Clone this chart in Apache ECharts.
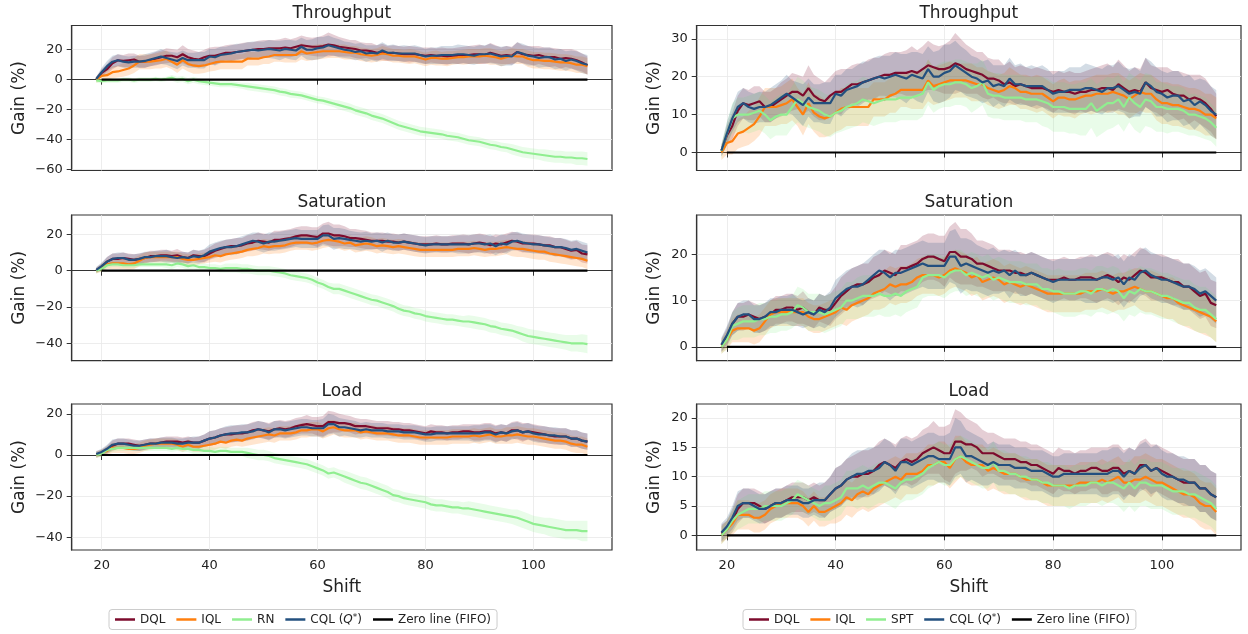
<!DOCTYPE html>
<html><head><meta charset="utf-8">
<script src="https://cdn.jsdelivr.net/npm/echarts@6/dist/echarts.min.js"></script>
<style>html,body{margin:0;padding:0;background:#fff}#c{width:1248px;height:634px}</style>
</head><body><div id="c"></div>
<script>
// ---------------- DATA ----------------
const SHIFT = Array.from({length: 92}, (_, i) => 19 + i);   // shifts 19..110
const ZERO_X = [20, 110];
const ZERO_Y = [0, 0];
const PANEL_TITLES = ['Throughput', 'Saturation', 'Load'];
const LEFT_LEGEND = ['DQL', 'IQL', 'RN', 'CQL (Q*)', 'Zero line (FIFO)'];
const RIGHT_LEGEND = ['DQL', 'IQL', 'SPT', 'CQL (Q*)', 'Zero line (FIFO)'];
const X_TICKS = [20, 40, 60, 80, 100];
const Y_TICKS_LEFT = [[-60, -40, -20, 0, 20], [-40, -20, 0, 20], [-40, -20, 0, 20]];
const Y_TICKS_RIGHT = [[0, 10, 20, 30], [0, 10, 20], [0, 5, 10, 15, 20]];

// Throughput
const TP_DQL = [0.5,4.5,7,11,13,12.5,13,13.5,12,12, 13,14,15,16,16,15,17,15,14,13.5, 15,16,16,17,18,18,18.5,19,19.5,20, 20.5,20.5,21,21,21,21.5,21,22,23,22.5, 22,22,22.5,23.5,23,22,21.5,21,20.5,19.5, 19.5,19,18,18.5,17.5,18,17.5,17,17,17, 16.5,16,16.5,16,16,15.5,16,16,16.5,16.5, 17,17,16.5,18,17,16,16.5,16,18.5,17, 16.5,16,16.5,15.5,15,15,14,14.5,14,13, 11.5,9.5];
const TP_IQL = [0,2.5,3,5,5.5,6.5,7.5,9.5,12,12, 12,12.5,13,14,12,10,13,10.5,9.5,9, 9.5,10.5,11.5,12,12,12,12,12,14,14, 14,15,15.5,16.5,16.5,16.5,16.5,16.5,19,17.5, 18,18.5,19,19,19,19,18.5,18,18,17, 16.5,16,16.5,17.5,17,16,16,15.5,15.5,15.5, 14.5,13.5,14.5,14.5,14,14,14.5,15,15,15.5, 15.5,15.5,16,15.5,15,14,15,16,15.5,15.5, 14,13,13,12.5,12.5,12,11.5,11.5,11,10, 10,9];
const TP_CQL = [0.5,5,9,12,13,12,11.5,12,12,12.5, 13.5,14.5,15.5,14.5,13.5,12.5,14.5,13,13,13, 13,15.5,15,16.5,17,17.5,18.5,19,19.5,20, 19.5,20,20.5,20,19.5,20.5,20,19.5,22,20, 20,21,21.5,23,22,21,20,19.5,18.5,19, 17.5,18,17.5,19.5,18,18,17.5,17.5,17.5,17.5, 16.5,15.5,16,16,16.5,16.5,16.5,17,17,16.5, 16,17,17,17.5,16.5,15.5,16,15.5,18.5,17.5, 16,15.5,14.5,15,15,13.5,14,12.5,13.5,12.5, 11,10];
const TP_RN = [-0.5,-1,-0.5,-0.5,-0.5,0,0,-0.5,0,0, 0,0.5,0,0.5,1.2,0,0.5,-1,0,-1, -1.5,-2,-2.5,-3,-3,-3,-3.5,-4,-4.5,-5, -5.5,-6,-6.5,-7,-8,-8.5,-9.5,-10,-10.5,-11.5, -12.5,-13.5,-14,-15,-16,-17,-18,-19,-20.5,-21.5, -22.5,-24,-25,-26,-27.5,-29,-30.5,-31.5,-32.5,-33.5, -34.5,-35,-35.5,-36,-36.5,-37.5,-38,-38.5,-39.5,-40.5, -41,-41.5,-42.5,-43.5,-44,-45,-45.5,-46.5,-47.5,-48.5, -49,-49.5,-50,-50.5,-51,-51.5,-51.5,-52,-52,-52.5, -52.5,-53];
const TP_SPT = [0.4,5,9,10,10,10,10.5,11,10,8.5, 9.5,10,10,12,14,13,12,11.5,11,10, 9.5,10.5,11,12,12.5,13,14,13.5,13,13.5, 14,14,14,14.5,14.5,14.5,15,15.5,18.5,16.5, 17.5,18,18,18.5,18.5,18,17,17.5,18.5,15.5, 15,15,14.5,14.5,14.5,14.5,14,14,14,13.5, 13,12,12,12,11.5,11.5,11.5,11.5,13,11, 12,13,13,14,12,14.5,13,12,14,13.5, 12,12,11.5,11.5,11.5,11,10,10,9.5,9, 8,6.5];
const TP_DQL_SD = [1.5,2.5,3.5,4,4,4,4.5,4,4,4, 4,4.5,4.5,5,4.5,5,6,5.5,5.5,5, 5,5.5,6,5,5,5.5,5,5.5,5.5,5, 5.5,6,5.5,5.5,6,6.5,6,6,6.5,6, 6,6.5,7,8,7,6.5,6,5.5,6,5.5, 5,5.5,5,5.5,5,5,5,5,5.5,5, 5,5.5,5,5,5.5,5.5,5,5.5,5.5,6, 6,6.5,6,6.5,6,5.5,6,6,6.5,6, 6,6.5,6,6,6.5,6,6.5,6,6.5,6.5, 6,6];
const TP_IQL_SD = [2,3,3.5,4,4,4.5,4.5,5,5,5, 5,5,5.5,5.5,5,5.5,5.5,5,5.5,5, 5,5,5.5,5,5,5,5,5,4.5,4.5, 4.5,4.5,5,4.5,4.5,5,5,5,5.5,5, 5,5,5,4.5,4.5,4.5,5,4.5,4.5,4.5, 4.5,4.5,4.5,5,4.5,4.5,4.5,4.5,5,4.5, 4.5,4.5,4.5,5,4.5,5,4.5,4.5,5,5, 5,5,5,5.5,5,5,5,5,5,5, 5.5,5.5,5.5,5.5,5.5,5.5,5.5,5.5,5.5,5.5, 5.5,5.5];
const TP_CQL_SD = [1.5,3,3.5,4,4,4,4,4,4,4.5, 4.5,4.5,5,4.5,5,5.5,5,5,5,5.5, 5.5,5,5.5,5.5,5,5.5,5.5,5,5.5,5.5, 6,5.5,6,6,6.5,6,6.5,6.5,6,6.5, 7,7.5,7,6.5,6,6,5.5,5.5,5.5,5.5, 5.5,5,5.5,5.5,5,5.5,5,5.5,5,5.5, 5.5,5,5.5,5.5,6,6,6,6.5,6,6, 6,6,6,6.5,6,6.5,6.5,6,6.5,6.5, 6.5,6,6.5,6.5,6.5,6.5,6.5,6.5,6,6.5, 6.5,6.5];
const TP_RN_SD = [1.5,1.5,1.5,1.5,1.5,1.5,1.5,1.5,1.5,1.5, 1.5,1.5,1.5,1.5,2,2,2,2,2,2, 2,2,2,2,2,2,2,2,2.5,2.5, 2.5,2.5,2.5,2.5,2.5,2.5,2.5,2.5,2.5,2.5, 2.5,2.5,2.5,2.5,2.5,3,3,3,3,3, 3,3,3,3,3,3,3,3,3,3, 3,3,3,3,3,3,3,3,3,3, 3,3,3,3,3,3,3,3.5,3.5,3.5, 3.5,3.5,3.5,4,4,4,4,4,4,4.5, 4.5,4.5];
const TP_SPT_SD = [2,3,4,4.5,4.5,5,5,5,5,5, 5,5.5,5.5,5.5,6,6,5.5,5.5,5.5,5.5, 5.5,5.5,5.5,6,6,6,6,6,6,6, 6,6,6,6,6,6,6.5,6,6,6, 6,6,6,6,6,6,6.5,6,6,6, 6,6,6,6,6,6,6,6,6,6.5, 6.5,6.5,6.5,6.5,6.5,6.5,7,7,6.5,7, 7,7,6.5,6.5,6.5,6.5,7,7,7,7, 6.5,6.5,6.5,6,6,6,5.5,5.5,5.5,5.5, 5,5];

// Saturation
const SAT_DQL = [0.3,2,5,6.5,6.5,7,6.5,6,6.5,7, 8,8,8.5,8.5,8,8.5,7.5,7,8.5,8, 8,9.5,11,12,13,13.5,13.5,14,15,15.5, 16.5,16,15.5,17,17,17.5,18,19,19.5,19.5, 19,18.5,20.5,20.5,19.5,19.5,19,18,18,17.5, 17,16.5,16.5,16.5,16,16,15.5,16,15.5,15, 14.5,14.5,14.5,15,14.5,14.5,15,15,15,14.5, 15,15.5,15,14,15,14.5,15.5,16.5,16,15, 15,15,14.5,14,14,13,13,12,11,11.5, 9.5,9];
const SAT_IQL = [0,1.5,3.5,4,4,4,3.5,4,5.5,7, 7.5,7.5,7.5,7.5,7.5,7.5,6.5,6,6,6.5, 7,7.5,8.5,8,9,9.5,10,10.5,11.5,12, 12.5,13.5,13,13.5,13.5,14,15,15.5,15.5,15.5, 15,15.5,16.5,17,16.5,16,15,15.5,14,14.5, 15,14.5,13.5,14,13.5,13,13.5,13,12.5,12, 11.5,11.5,11.5,11.5,11.5,11.5,11.5,12,12,12, 12.5,12,11.5,12,12,12.5,13,12.5,12,12, 11.5,11,10.5,10.5,9.5,9,8.5,8,7.5,7, 6.5,5.5];
const SAT_CQL = [0.5,2.5,5,6.5,7,7,6,6,6.5,7.5, 7.5,8,8,8,7.5,7,7.5,7,8,7.5, 8.5,10.5,11.5,12.5,13,13,13.5,14.5,15.5,16.5, 16,15,16,16,16.5,17,17.5,18,17.5,17.5, 17.5,17.5,19.5,19.5,17.5,18,17.5,17,16.5,16, 16.5,16,16.5,15.5,16.5,15.5,15.5,16,15.5,15, 14.5,14,14.5,14.5,14.5,14.5,14.5,14.5,14.5,14.5, 15,15,14.5,15,13.5,15,14.5,16,16.5,15.5, 15,14.5,14.5,14,13.5,13,13,12.5,11.5,12, 11,10];
const SAT_RN = [0,1,3,3.5,3.5,3,3,3,3.5,3.5, 3.5,3.5,3.5,3.5,3,4,3.5,2.5,3,2, 2,1.5,1.5,1,1.5,1.5,1.5,1,1,0.5, 0,0,0,-0.5,-1,-1.5,-2.5,-3,-3.5,-4, -5,-6.5,-7.5,-9,-10,-10,-11,-12,-13,-14, -15,-16,-16.5,-17.5,-18.5,-19.5,-21,-22,-22.5,-23.5, -24,-25,-25.5,-26,-26.5,-27,-27,-27.5,-28,-28, -28.5,-29,-29.5,-30.5,-31,-32,-32.5,-33,-34,-35, -36,-36.5,-37,-37.5,-38,-38.5,-39,-39.5,-40,-40, -40,-40.5];
const SAT_SPT = [0,1.5,4.5,5,5.5,5.5,5.5,6,6,6.5, 6.5,7,7,7.5,9,8.5,7.5,7.5,7.5,7, 7.5,8,8.5,10,10,10.5,11,11,11,11.5, 11,11,11.5,11,12,12.5,13,15,15.5,15.5, 15.5,15,16,16.5,16.5,15.5,16,15.5,15,15.5, 14.5,15,14.5,14,14,14,13.5,13.5,13.5,12.5, 12.5,12,12,11.5,11.5,11.5,12,12,11.5,12.5, 12.5,12,12.5,12,10.5,12,11.5,12.5,12,12, 11.5,11,11,10.5,10,9.5,9.5,8.5,8,8, 7,6];
const SAT_DQL_SD = [1.5,2,2.5,3,3,3,3,3,3,3, 3,3,3,3,3,3.5,3,3,3,3, 3.5,3.5,4,4,4,4,4.5,4,4.5,4.5, 4.5,4.5,4.5,5,5,5,5,5,5,5, 5,5.5,5.5,6.5,6,6,5.5,5,5,5, 5,4.5,4.5,4.5,4.5,4.5,4.5,4.5,4.5,4.5, 4.5,4.5,4.5,4.5,4.5,4.5,4.5,4.5,5,5, 5,5,5,5,5,5,5,5,5,5, 5,5,5,5,5,5,5,5,5,5, 5,5];
const SAT_IQL_SD = [1.5,2,2.5,3,3,3,3,3,3,3, 3,3,3,3,3,3,3,3,3,3, 3,3,3.5,3.5,3.5,3.5,3.5,3.5,3.5,4, 4,4,4,4,4,4,4,4,4,4, 4,4,4,4,4,4,4,4,4,4, 4,4,4,4,4,4,4,4,4,4, 4,4,4,4,4,4,4,4,4,4, 4,4,4,4,4,4,4,4.5,4.5,4.5, 4.5,4.5,4.5,4.5,4.5,4.5,4.5,4.5,4.5,4.5, 4.5,4.5];
const SAT_CQL_SD = [1.5,2,2.5,3,3,3,3,3,3,3, 3,3,3,3.5,3,3,3,3,3.5,3.5, 3.5,4,4,4,4,4.5,4.5,4.5,4.5,4.5, 5,5,5,5,5,5,5,5,5,5, 5,5,5.5,6,6,5.5,5.5,5,5,5, 5,4.5,4.5,5,4.5,4.5,4.5,4.5,4.5,4.5, 4.5,4.5,4.5,4.5,4.5,4.5,4.5,5,5,5, 5,5,5,5,5,5,5,5,5,5, 5,5,5,5,5,5,5,5,5,5, 5,5];
const SAT_RN_SD = [1.5,1.5,1.5,1.5,1.5,1.5,1.5,1.5,1.5,1.5, 1.5,1.5,1.5,2,2,2,2,2,2,2, 2,2,2,2,2.5,2.5,2.5,2.5,2.5,2.5, 2.5,2.5,2.5,2.5,2.5,2.5,2.5,2.5,2.5,2.5, 2.5,2.5,2.5,2.5,3,3,3,3,3,3, 3,3,3,3,3,3,3,3,3,3, 3,3,3,3,3,3,3,3,3,3.5, 3.5,3.5,3.5,3.5,3.5,3.5,3.5,3.5,3.5,4, 4,4,4,4,4,4,4,4,4.5,4.5, 5,5];
const SAT_SPT_SD = [1.5,2,3,3.5,3.5,3.5,3.5,3.5,3.5,3.5, 3.5,3.5,3.5,3.5,4,4,4,4,4,4, 4,4,4,4,4,4.5,4.5,4.5,4.5,4.5, 4.5,4.5,4.5,4.5,4.5,4.5,4.5,4.5,4.5,4.5, 4.5,4.5,4.5,4.5,4.5,4.5,4.5,4.5,4.5,4.5, 4.5,4.5,4.5,4.5,4.5,4.5,4.5,4.5,4.5,4.5, 4.5,4.5,5,5,5,5,5,5,5,5, 5,5,5,5,5,5,5,5,5,5, 5,5,5,5,5,5,5,5,5,5, 5,5];

// Load
const LOAD_DQL = [0.3,1,2.5,4.5,5.5,5.5,5.5,5,4.5,5, 5.5,5.5,6,6.5,6.5,6.5,6,6.5,6,6, 7,8,8.5,9.5,10,10,10.5,10.5,11,12, 12.5,12,11.5,12.5,13,12.5,13,14,14.5,15, 14.5,14,14,16,16,15.5,15.5,15,14,14, 14,13.5,13,13,13,12.5,12.5,12,12,11.5, 11,10.5,11.5,11,11,10.5,11,11,11.5,11.5, 11,11,11.5,11.5,10.5,11,10.5,12,12,11, 11.5,11,10.5,10,9.5,9,9,9,8,8, 7,6.5];
const LOAD_IQL = [0,1,2,3.5,3.5,3.5,3,3,3.5,4.5, 5,5.5,5.5,5.5,5.5,5,4,5,4,4, 4.5,5,5.5,6.5,6,7,7.5,7,8,8.5, 9,9.5,10,9.5,10.5,10.5,10.5,11,12,12, 12.5,12.5,11.5,13,13.5,12.5,12,12,12,11, 11.5,11,10.5,10.5,10.5,10,9.5,9.5,9.5,9, 8.5,8.5,8.5,8.5,8.5,8.5,9,9,9,9, 9.5,9,9.5,10,9,9,9.5,9.5,10,9.5, 9,9,8.5,8,7.5,7,7,6.5,5.5,5, 5,4];
const LOAD_CQL = [0.5,1.5,3,5,5.5,5.5,5,4.5,4.5,5, 5.5,5.5,6,6,6,5.5,5.5,6,6,6, 7,8,8.5,9.5,10,10.5,10.5,11,11,11.5, 12.5,12,11,12.5,12.5,12,12.5,13,13.5,13.5, 13,13,13,15,15,13.5,13.5,13,12.5,12, 12.5,12,12,12,11.5,11.5,11.5,11,11,11, 10.5,10,10,10.5,10.5,10.5,10.5,10.5,10.5,10.5, 10.5,10.5,11,11,10,11,10.5,11.5,12,11, 11.5,10.5,10,10,9.5,9.5,9,9,8,8, 7,6.5];
const LOAD_RN = [0,0.5,2.5,3,3.5,3.5,3.5,3.5,3.5,3.5, 3.5,3.5,3.5,3.5,3,3.5,3,3,2.5,2.5, 2,2,1.5,2,2,1.5,1.5,1.5,1,0.5, 0,0,-0.5,-1.5,-2,-2.5,-3,-3.5,-4,-4.5, -5.5,-6.5,-7.5,-9,-8.5,-9.5,-10.5,-11.5,-12.5,-13.5, -14,-15,-16,-17,-18,-19.5,-20,-21,-21.5,-22, -22.5,-23,-24,-24.5,-24.5,-25,-25.5,-25.5,-26,-26, -26.5,-27,-27.5,-28,-28.5,-29,-29.5,-30,-30.5,-31.5, -32.5,-33.5,-34,-34.5,-35,-35.5,-36,-36.5,-36.5,-36.5, -37,-37];
const LOAD_SPT = [0,1,2.5,3.5,4,4.5,4.5,4.5,5,5, 5,5,5.5,6,7,6.5,6,5.5,5,5.5, 5.5,6,6.5,8,8,8,8.5,8,8.5,9, 9,8.5,8,9,9.5,9.5,10,10.5,11.5,12, 12.5,12,12,13,13.5,13,12.5,12,11.5,11.5, 12.5,11,11,10.5,10.5,10,10,9.5,9.5,9, 9,8.5,8.5,8.5,8,8.5,8.5,8.5,9,9, 8.5,9,9,8.5,8,9,8,9,9,8.5, 8.5,8.5,8,7.5,7.5,7.5,7,7,6.5,6, 5.5,4.5];
const LOAD_DQL_SD = [1.5,1.5,2,2.5,2.5,2.5,2.5,2.5,2.5,2.5, 2.5,2.5,2.5,2.5,2.5,2.5,2.5,2.5,2.5,3, 3,3.5,3.5,3.5,3.5,4,4,4,4,4, 4,4,4,4,4,4,4,4,4,4.5, 4,4.5,5,5.5,5,4.5,4,4,4,3.5, 3.5,3.5,3.5,3.5,3.5,3.5,3.5,3.5,3.5,3.5, 3.5,3.5,3.5,3.5,3.5,3.5,3.5,3.5,3.5,3.5, 4,4,4,4,4,4,4,4,4.5,4.5, 4,4,4,4,4,4,4,4,4,4, 4,4];
const LOAD_IQL_SD = [1.5,1.5,2,2.5,2.5,2.5,2.5,2.5,2.5,2.5, 2.5,2.5,2.5,2.5,2.5,2.5,2.5,2.5,2.5,2.5, 2.5,3,3,3,3,3,3,3,3.5,3.5, 3.5,3.5,3.5,3.5,3.5,3.5,3.5,3.5,3.5,3.5, 3.5,3.5,3.5,4,3.5,3.5,3.5,3.5,3.5,3.5, 3.5,3.5,3.5,3.5,3.5,3.5,3.5,3.5,3.5,3.5, 3.5,3.5,3.5,3.5,3.5,3.5,3.5,3.5,3.5,3.5, 3.5,3.5,3.5,3.5,3.5,3.5,4,4,4,4, 4,4,4,4,4,4,4,4,4,4, 4,4];
const LOAD_CQL_SD = [1.5,1.5,2,2.5,2.5,2.5,2.5,2.5,2.5,2.5, 2.5,2.5,2.5,2.5,2.5,2.5,2.5,2.5,3,3, 3,3.5,3.5,3.5,4,4,4,4,4,4, 4,4,4,4,4,4,4,4,4,4, 4,4,4.5,5,4.5,4.5,4,4,4,3.5, 3.5,3.5,3.5,3.5,3.5,3.5,3.5,3.5,3.5,3.5, 3.5,3.5,3.5,3.5,3.5,3.5,3.5,3.5,3.5,3.5, 4,4,4,4,4,4,4,4,4,4, 4,4,4,4,4,4,4,4,4,4, 4,4];
const LOAD_RN_SD = [1.5,1.5,1.5,1.5,1.5,1.5,1.5,1.5,1.5,1.5, 1.5,1.5,1.5,1.5,1.5,1.5,1.5,1.5,2,2, 2,2,2,2,2,2,2,2,2.5,2.5, 2.5,2.5,2.5,2.5,2.5,2.5,2.5,2.5,2.5,2.5, 2.5,2.5,2.5,2.5,2.5,2.5,3,3,3,3, 3,3,3,3,3,3,3,3,3,3, 3,3,3,3,3,3,3,3,3,3.5, 3.5,3.5,3.5,3.5,3.5,3.5,3.5,3.5,4,4, 4,4,4,4,4.5,4.5,4.5,4.5,4.5,4.5, 5,5];
const LOAD_SPT_SD = [1.5,1.5,2,2.5,2.5,2.5,2.5,2.5,2.5,2.5, 2.5,2.5,2.5,2.5,2.5,2.5,2.5,2.5,2.5,3, 3,3,3,3,3,3.5,3.5,3.5,3.5,3.5, 3.5,3.5,3.5,3.5,3.5,3.5,3.5,3.5,3.5,3.5, 3.5,3.5,3.5,3.5,3.5,3.5,3.5,3.5,3.5,3.5, 3.5,3.5,3.5,3.5,3.5,3.5,3.5,3.5,3.5,3.5, 3.5,3.5,3.5,3.5,3.5,3.5,3.5,3.5,3.5,3.5, 3.5,3.5,3.5,3.5,4,4,4,4,4,4, 4,4,4,4,4,4,4,4,4,4, 4,4];

// ---------------- LAYOUT / STYLE ----------------
const COLORS = {DQL: '#7d0b2d', IQL: '#ff7f0e', GREEN: '#90ee90', CQL: '#23507f', ZERO: '#000000'};
const ROW_TOP = [25.5, 215, 404];
const ROW_H = [145, 145.7, 146];
const COL_LEFT = [71.7, 696.7];
const COL_W = [540.3, 544.3];
const Y_RANGE_LEFT = [[-60.7, 36.2], [-49.6, 30.7], [-46.2, 24.8]];
const Y_RANGE_RIGHT = [[-4.75, 33.5], [-3.0, 28.5], [-2.5, 22.4]];
const FONT = 'DejaVu Sans';
const TXT = '#222';

const ROWS = [
  {dql: TP_DQL, iql: TP_IQL, cql: TP_CQL, rn: TP_RN, spt: TP_SPT,
   dqlSd: TP_DQL_SD, iqlSd: TP_IQL_SD, cqlSd: TP_CQL_SD, rnSd: TP_RN_SD, sptSd: TP_SPT_SD},
  {dql: SAT_DQL, iql: SAT_IQL, cql: SAT_CQL, rn: SAT_RN, spt: SAT_SPT,
   dqlSd: SAT_DQL_SD, iqlSd: SAT_IQL_SD, cqlSd: SAT_CQL_SD, rnSd: SAT_RN_SD, sptSd: SAT_SPT_SD},
  {dql: LOAD_DQL, iql: LOAD_IQL, cql: LOAD_CQL, rn: LOAD_RN, spt: LOAD_SPT,
   dqlSd: LOAD_DQL_SD, iqlSd: LOAD_IQL_SD, cqlSd: LOAD_CQL_SD, rnSd: LOAD_RN_SD, sptSd: LOAD_SPT_SD}
];

function rgba(hex, a) {
  const n = parseInt(hex.slice(1), 16);
  return `rgba(${(n >> 16) & 255},${(n >> 8) & 255},${n & 255},${a})`;
}
function minusFmt(v) { return String(v).replace('-', '\u2212'); }

function band(k, mean, sd, color) {
  const lo = mean.map((m, i) => m - sd[i]);
  const hi = mean.map((m, i) => m + sd[i]);
  return {
    type: 'custom', name: 'band', xAxisIndex: k, yAxisIndex: k, z: 1, silent: true, clip: true,
    data: SHIFT.map((x, i) => [x, lo[i], hi[i]]),
    encode: {x: 0, y: [1, 2]},
    renderItem(params, api) {
      if (params.dataIndex !== 0) return null;
      const pts = [];
      for (let i = 0; i < SHIFT.length; i++) pts.push(api.coord([SHIFT[i], hi[i]]));
      for (let i = SHIFT.length - 1; i >= 0; i--) pts.push(api.coord([SHIFT[i], lo[i]]));
      return {type: 'polygon', shape: {points: pts}, style: {fill: rgba(color, 0.2)}};
    }
  };
}

function line(k, name, xs, ys, color, z) {
  return {
    type: 'line', name, xAxisIndex: k, yAxisIndex: k, z: z || 2,
    data: xs.map((x, i) => [x, ys[i]]),
    symbol: 'none', showSymbol: false, silent: true,
    color, itemStyle: {color},
    lineStyle: {color, width: 2.2}
  };
}

const grids = [], xAxes = [], yAxes = [], series = [], titles = [];
for (let r = 0; r < 3; r++) {
  for (let c = 0; c < 2; c++) {
    const k = r * 2 + c;
    const d = ROWS[r];
    const green = c === 0 ? d.rn : d.spt;
    const greenSd = c === 0 ? d.rnSd : d.sptSd;
    const greenName = c === 0 ? 'RN' : 'SPT';
    const yr = c === 0 ? Y_RANGE_LEFT[r] : Y_RANGE_RIGHT[r];
    const yt = c === 0 ? Y_TICKS_LEFT[r] : Y_TICKS_RIGHT[r];
    grids.push({left: COL_LEFT[c], top: ROW_TOP[r], width: COL_W[c], height: ROW_H[r],
      show: true, borderColor: '#333', borderWidth: 1.2, backgroundColor: 'transparent', containLabel: false});
    xAxes.push({
      type: 'value', gridIndex: k, min: 14.45, max: 114.55,
      name: r === 2 ? 'Shift' : '', nameLocation: 'middle', nameGap: 29,
      nameTextStyle: {fontSize: 17, color: TXT, fontFamily: FONT},
      axisLine: {show: true, lineStyle: {color: '#333', width: 1.2}},
      axisTick: {show: true, inside: false, length: 5, lineStyle: {color: '#333', width: 1}, customValues: X_TICKS},
      axisLabel: {show: r === 2, customValues: X_TICKS, margin: 9, fontSize: 13, color: TXT, fontFamily: FONT},
      splitLine: {show: true, lineStyle: {color: '#e8e8e8', width: 0.8}}
    });
    yAxes.push({
      type: 'value', gridIndex: k, min: yr[0], max: yr[1],
      name: 'Gain (%)', nameLocation: 'middle', nameGap: c === 0 ? 44 : 34,
      nameTextStyle: {fontSize: 17, color: TXT, fontFamily: FONT},
      axisLine: {show: true, lineStyle: {color: '#333', width: 1.2}},
      axisTick: {show: true, inside: false, length: 5, lineStyle: {color: '#333', width: 1}, customValues: yt},
      axisLabel: {show: true, customValues: yt, margin: 9, fontSize: 13, color: TXT, fontFamily: FONT, formatter: minusFmt},
      splitLine: {show: true, lineStyle: {color: '#e8e8e8', width: 0.8}}
    });
    series.push(band(k, d.dql, d.dqlSd, COLORS.DQL));
    series.push(band(k, d.iql, d.iqlSd, COLORS.IQL));
    series.push(band(k, green, greenSd, COLORS.GREEN));
    series.push(band(k, d.cql, d.cqlSd, COLORS.CQL));
    series.push(line(k, 'DQL', SHIFT, d.dql, COLORS.DQL, 2));
    series.push(line(k, 'IQL', SHIFT, d.iql, COLORS.IQL, 3));
    series.push(line(k, greenName, SHIFT, green, COLORS.GREEN, 4));
    series.push(line(k, 'CQL (Q*)', SHIFT, d.cql, COLORS.CQL, 5));
    series.push(line(k, 'Zero line (FIFO)', ZERO_X, ZERO_Y, COLORS.ZERO, 6));
    titles.push({
      text: PANEL_TITLES[r], left: COL_LEFT[c] + COL_W[c] / 2, top: ROW_TOP[r] - 20.5, textAlign: 'center',
      padding: 0,
      textStyle: {fontSize: 17, fontWeight: 'normal', color: TXT, fontFamily: FONT}
    });
  }
}

const legendRich = {
  i: {fontStyle: 'italic', fontSize: 12, color: TXT, fontFamily: FONT},
  s: {fontSize: 9, color: TXT, fontFamily: FONT, verticalAlign: 'top'}
};
function legendFmt(name) { return name === 'CQL (Q*)' ? 'CQL ({i|Q}{s|*})' : name; }
function legend(data, left) {
  return {
    data, left, top: 609.5, orient: 'horizontal', selectedMode: false,
    icon: 'rect', itemWidth: 20, itemHeight: 2.5, itemGap: 11,
    padding: [4, 6], borderColor: '#cccccc', borderWidth: 1, borderRadius: 3,
    formatter: legendFmt,
    textStyle: {fontSize: 12, color: TXT, fontFamily: FONT, rich: legendRich}
  };
}

const chart = echarts.init(document.getElementById('c'), null, {renderer: 'canvas'});
chart.setOption({
  animation: false,
  backgroundColor: '#ffffff',
  title: titles,
  legend: [legend(LEFT_LEGEND, 109), legend(RIGHT_LEGEND, 743)],
  grid: grids,
  xAxis: xAxes,
  yAxis: yAxes,
  series
});
</script>
</body></html>
